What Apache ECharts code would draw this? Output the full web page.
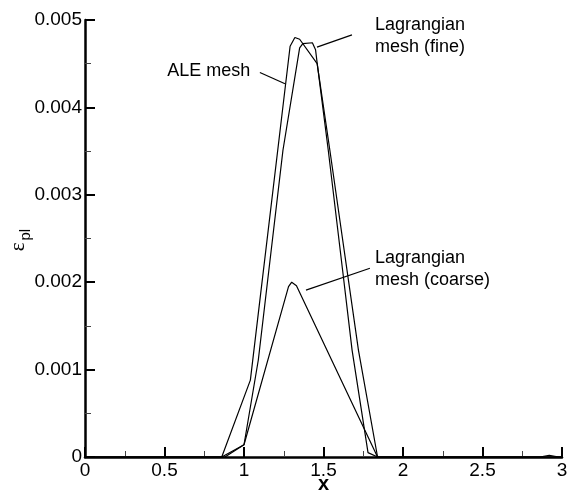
<!DOCTYPE html>
<html>
<head>
<meta charset="utf-8">
<script src="https://cdn.jsdelivr.net/npm/echarts@6/dist/echarts.min.js"></script>
<style>
  html, body { margin: 0; padding: 0; background: #fff; }
  #chart { width: 568px; height: 494px; }
</style>
</head>
<body>
<div id="chart"></div>
<script>
// Plastic strain profiles along x for three mesh types
const aleX = [0, 0.86, 1.04, 1.29, 1.32, 1.35, 1.46, 1.54, 1.72, 1.84, 2.86, 2.92, 2.98, 3];
const aleY = [0, 0, 0.00088, 0.0047, 0.0048, 0.00478, 0.0045, 0.00351, 0.00122, 0, 0, 0.00002, 0, 0];

const fineX = [0, 0.88, 1.0, 1.09, 1.245, 1.35, 1.37, 1.43, 1.45, 1.46, 1.53, 1.62, 1.68, 1.78, 1.84, 3];
const fineY = [0, 0, 0.00014, 0.00111, 0.00351, 0.00468, 0.00473, 0.00474, 0.00466, 0.00451, 0.00351, 0.00214, 0.00122, 0.00005, 0, 0];

const coarseX = [0, 0.86, 1.0, 1.28, 1.30, 1.33, 1.84, 3];
const coarseY = [0, 0, 0.00014, 0.00195, 0.002, 0.00196, 0, 0];

// Callout labels: text lines, anchor (data coords), leader line ends (data coords)
const aleNote = { lines: ['ALE mesh'], anchor: [1.04, 0.00442], leader: [[1.10, 0.0044], [1.258, 0.00427]] };
const fineNote = { lines: ['Lagrangian', 'mesh (fine)'], anchor: [1.824, 0.00494], leader: [[1.459, 0.00469], [1.679, 0.00483]] };
const coarseNote = { lines: ['Lagrangian', 'mesh (coarse)'], anchor: [1.824, 0.00228], leader: [[1.39, 0.00191], [1.792, 0.00216]] };

const FONT = '"Liberation Sans", Arial, Helvetica, sans-serif';

function pairs(xs, ys) { return xs.map((x, i) => [x, ys[i]]); }

const chart = echarts.init(document.getElementById('chart'), null, { renderer: 'canvas' });

function lineSeries(name, xs, ys) {
  return {
    name: name,
    type: 'line',
    data: pairs(xs, ys),
    showSymbol: false,
    symbol: 'none',
    lineStyle: { color: '#000', width: 1.2 },
    silent: true
  };
}

chart.setOption({
  animation: false,
  backgroundColor: '#fff',
  grid: { left: 85, right: 6, top: 20, bottom: 37, containLabel: false, outerBoundsMode: 'none' },
  xAxis: {
    type: 'value', min: 0, max: 3, interval: 0.5,
    axisLine: { lineStyle: { color: '#000', width: 2.5 } },
    axisTick: { inside: true, length: 10, lineStyle: { color: '#000', width: 2 } },
    minorTick: { show: true, splitNumber: 2, length: 6, lineStyle: { color: '#444', width: 1 } },
    splitLine: { show: false },
    axisLabel: { color: '#000', fontSize: 19, fontFamily: FONT, margin: 4 },
    name: 'x', nameLocation: 'middle', nameGap: 17, nameMoveOverlap: false,
    nameTextStyle: { color: '#000', fontSize: 20, fontWeight: 'bold', fontFamily: FONT }
  },
  yAxis: {
    type: 'value', min: 0, max: 0.005, interval: 0.001,
    axisLine: { lineStyle: { color: '#000', width: 2.5 } },
    axisTick: { inside: true, length: 10, lineStyle: { color: '#000', width: 2 } },
    minorTick: { show: true, splitNumber: 2, length: 6, lineStyle: { color: '#444', width: 1 } },
    splitLine: { show: false },
    axisLabel: {
      color: '#000', fontSize: 19, fontFamily: FONT, margin: 3,
      formatter: v => (v === 0 ? '0' : v.toFixed(3))
    }
  },
  series: [
    lineSeries('ALE mesh', aleX, aleY),
    lineSeries('Lagrangian mesh (fine)', fineX, fineY),
    lineSeries('Lagrangian mesh (coarse)', coarseX, coarseY)
  ]
});

// Callouts and y-axis title drawn as graphic elements positioned from data coordinates
function toPx(p) { return chart.convertToPixel({ gridIndex: 0 }, p); }

function noteGraphics(note, align) {
  const out = [];
  const a = toPx(note.anchor);
  note.lines.forEach((t, i) => {
    out.push({
      type: 'text', silent: true,
      x: a[0], y: a[1] + i * 22,
      style: { text: t, fill: '#000', font: '18px ' + FONT, align: align, verticalAlign: 'middle' }
    });
  });
  const p0 = toPx(note.leader[0]);
  const p1 = toPx(note.leader[1]);
  out.push({
    type: 'line', silent: true,
    shape: { x1: p0[0], y1: p0[1], x2: p1[0], y2: p1[1] },
    style: { stroke: '#000', lineWidth: 1.2 }
  });
  return out;
}

const yMid = toPx([0, 0.0025]);
const graphics = []
  .concat(noteGraphics(aleNote, 'right'))
  .concat(noteGraphics(fineNote, 'left'))
  .concat(noteGraphics(coarseNote, 'left'))
  .concat([{
    type: 'group', silent: true,
    x: 29, y: yMid[1] + 4, rotation: Math.PI / 2,
    children: [
      { type: 'text', x: 0, y: 0, style: { text: 'ε', fill: '#000', font: '21px "Liberation Serif", serif', align: 'right', verticalAlign: 'bottom' } },
      { type: 'text', x: 2, y: 4, style: { text: 'pl', fill: '#000', font: '15px ' + FONT, align: 'left', verticalAlign: 'bottom' } }
    ]
  }]);

chart.setOption({ graphic: graphics });
</script>
</body>
</html>
